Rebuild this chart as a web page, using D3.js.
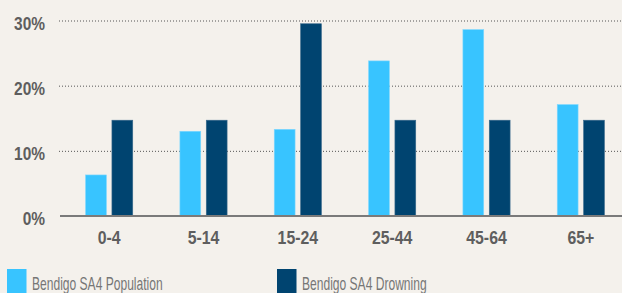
<!DOCTYPE html>
<html>
<head>
<meta charset="utf-8">
<script src="https://cdn.jsdelivr.net/npm/d3@7"></script>
<style>
  html, body { margin: 0; padding: 0; background: #f4f1ec; }
  svg { display: block; }
  text { font-family: "Liberation Sans", Arial, sans-serif; }
</style>
</head>
<body>
<div id="chart"></div>
<script>
// data
var ageGroups = ["0-4", "5-14", "15-24", "25-44", "45-64", "65+"];
var seriesNames = ["Bendigo SA4 Population", "Bendigo SA4 Drowning"];
var population = [6.3, 13.0, 13.3, 23.8, 28.6, 17.1];
var drowning = [14.7, 14.7, 29.5, 14.7, 14.7, 14.7];
var yTicks = [0, 10, 20, 30];
var colors = ["#38c4ff", "#004470"];

var w = 622, h = 293;

var svg = d3.select("#chart").append("svg")
  .attr("width", w)
  .attr("height", h);

var x0 = d3.scaleBand()
  .domain(ageGroups)
  .range([62, 628])
  .paddingInner(0.5)
  .paddingOuter(0.25);

var x1 = d3.scaleBand()
  .domain(seriesNames)
  .range([0, x0.bandwidth()])
  .paddingInner(0.21);

var y = d3.scaleLinear()
  .domain([0, 30])
  .range([216, 20.5]);

// dotted gridlines
svg.append("g")
  .attr("class", "grid")
  .attr("transform", "translate(59,0)")
  .call(d3.axisLeft(y).tickValues([10, 20, 30]).tickSize(-(w - 59)).tickFormat(""))
  .call(function(g) { g.select(".domain").remove(); })
  .selectAll("line")
  .attr("stroke", "#555")
  .attr("stroke-width", 1)
  .attr("stroke-dasharray", "1,2");

// y labels (condensed look via horizontal scale)
svg.append("g").selectAll("text")
  .data(yTicks)
  .enter()
  .append("text")
  .attr("transform", function(d) { return "translate(45," + (y(d) + 9) + ") scale(0.86,1)"; })
  .attr("text-anchor", "end")
  .attr("fill", "#5e5e5e")
  .style("font-size", "18px")
  .style("font-weight", "bold")
  .text(function(d) { return d + "%"; });

// bars
var rows = ageGroups.map(function(a, i) {
  return { age: a, values: [population[i], drowning[i]] };
});

var groups = svg.append("g").selectAll("g")
  .data(rows)
  .enter()
  .append("g")
  .attr("transform", function(d) { return "translate(" + x0(d.age) + ",0)"; });

groups.selectAll("rect")
  .data(function(d) { return d.values.map(function(v, i) { return { key: seriesNames[i], value: v, i: i }; }); })
  .enter()
  .append("rect")
  .attr("x", function(d) { return x1(d.key); })
  .attr("y", function(d) { return y(d.value); })
  .attr("width", x1.bandwidth())
  .attr("height", function(d) { return y(0) - y(d.value); })
  .attr("fill", function(d) { return colors[d.i]; })
  .attr("stroke", function(d) { return d.i === 0 ? "#7fd8ff" : "#3a6a8c"; })
  .attr("stroke-width", 0.6);

// baseline
svg.append("line")
  .attr("x1", 60)
  .attr("x2", w)
  .attr("y1", y(0))
  .attr("y2", y(0))
  .attr("stroke", "#7a7a7a")
  .attr("stroke-width", 2);

// x labels
svg.append("g").selectAll("text")
  .data(ageGroups)
  .enter()
  .append("text")
  .attr("transform", function(d) { return "translate(" + (x0(d) + x0.bandwidth() / 2) + ",244) scale(0.88,1)"; })
  .attr("text-anchor", "middle")
  .attr("fill", "#5e5e5e")
  .style("font-size", "18px")
  .style("font-weight", "bold")
  .text(function(d) { return d; });

// legend
var legendX = [7, 277];
var legend = svg.append("g").selectAll("g")
  .data(seriesNames)
  .enter()
  .append("g")
  .attr("transform", function(d, i) { return "translate(" + legendX[i] + ",269)"; });

legend.append("rect")
  .attr("width", 19.5)
  .attr("height", 26)
  .attr("fill", function(d, i) { return colors[i]; });

legend.append("text")
  .attr("transform", "translate(25,21) scale(0.67,1)")
  .attr("fill", "#767676")
  .style("font-size", "18px")
  .text(function(d) { return d; });
</script>
</body>
</html>
